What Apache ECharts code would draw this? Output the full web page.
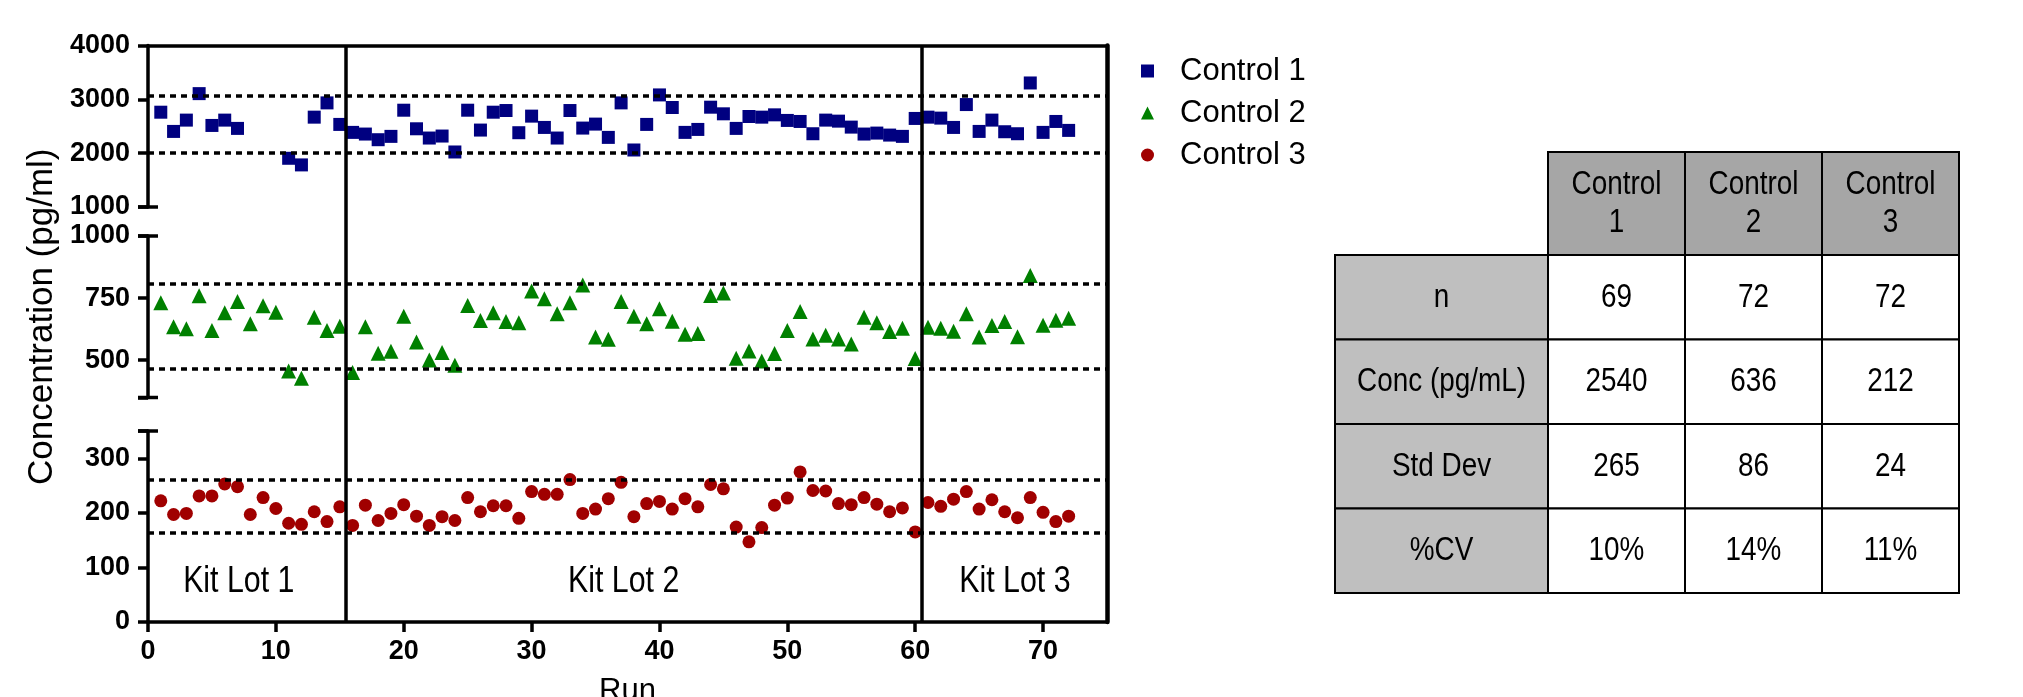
<!DOCTYPE html>
<html>
<head>
<meta charset="utf-8">
<script src="https://cdn.jsdelivr.net/npm/echarts@6/dist/echarts.min.js"></script>
<style>
html,body{margin:0;padding:0;background:#fff;}
#chart{width:2023px;height:697px;}
</style>
</head>
<body>
<div id="chart"></div>
<script>
// ---------- data ----------
const runs = [1,2,3,4,5,6,7,8,9,10,11,12,13,14,15,16,17,18,19,20,21,22,23,24,25,26,27,28,29,30,31,32,33,34,35,36,
  37,38,39,40,41,42,43,44,45,46,47,48,49,50,51,52,53,54,55,56,57,58,59,60,61,62,63,64,65,66,67,68,69,70,71,72];
const control1 = [2761,2404,2614,3106,2515,2614,2460,null,null,null,1905,1782,2669,2934,2534,2386,2355,2250,2312,2798,
  2453,2281,2318,2022,2798,2429,2761,2792,2380,2688,2478,2281,2792,2466,2540,2293,2934,2059,2534,3082,
  2848,2386,2441,2854,2731,2460,2681,2669,2712,2608,2589,2361,2614,2595,2484,2355,2373,2336,2312,2645,
  2669,2651,2478,2903,2404,2614,2398,2361,3304,2386,2589,2423];
const control2 = [731,635,627,760,620,691,736,647,719,693,457,427,673,620,637,451,635,528,536,677,
  573,501,531,480,720,660,691,656,651,779,747,687,731,803,593,584,736,677,647,707,
  657,605,608,761,771,508,537,497,527,620,696,585,601,585,565,673,651,616,629,507,
  633,629,617,687,593,640,656,595,841,641,661,669];
const control3 = [222,197,199,231,231,253,248,197,228,208,181,179,202,184,211,177,214,186,199,215,
  194,177,193,186,228,202,213,213,190,239,234,234,261,199,207,226,256,193,217,221,
  207,226,211,252,244,174,147,173,214,227,275,241,240,217,215,228,216,202,209,165,
  219,212,225,239,207,224,202,191,228,201,184,194];
const seriesNames = ['Control 1','Control 2','Control 3'];
// summary table
const tableColHeads = ['Control\n1','Control\n2','Control\n3'];
const tableRowHeads = ['n','Conc (pg/mL)','Std Dev','%CV'];
const nValues = [69,72,72];
const concValues = [2540,636,212];
const sdValues = [265,86,24];
const cvValues = ['10%','14%','11%'];
// kit lots
const lotBoundaries = [15.5,60.5];
const lotLabels = ['Kit Lot 1','Kit Lot 2','Kit Lot 3'];
const lotLabelX = [7.1,37.2,67.8];
const lotLabelY = 73;
// axis ticks
const xTicks = [0,10,20,30,40,50,60,70];
const seg1Ticks = [1000,2000,3000,4000];
const seg2Ticks = [350,500,750,1000];
const seg2Labels = [500,750,1000];
const seg3Ticks = [0,100,200,300,350];
const seg3Labels = [0,100,200,300];
// segment end caps (break marks)
const seg1Caps = [1000];
const seg2Caps = [350,1000];
const seg3Caps = [350];

// ---------- layout / style ----------
const FONT = "'Liberation Sans', Arial, sans-serif";
const colors = ['#000080','#008000','#a00000'];
const symbols = ['rect','triangle','circle'];
const colWidths = [213,137,137,137];
const rowHeights = [103,84.5,84.5,84.5,84.5];
const colEdges = colWidths.reduce((a,w)=>{a.push(a[a.length-1]+w);return a;},[0]);
const rowEdges = rowHeights.reduce((a,h)=>{a.push(a[a.length-1]+h);return a;},[0]);
const NARROW_SCALE = 0.82;
const LW = 3.5;

function pairs(vals){ const out=[]; vals.forEach((v,i)=>{ if(v!==null) out.push([runs[i],v]); }); return out; }

const axisLineStyle = {color:'#000', width:LW};
function yAxisSeg(gridIndex,min,max,ticks,labels,extra){
  return Object.assign({
    type:'value', gridIndex, min, max,
    axisLine:{show:true,onZero:false,lineStyle:axisLineStyle},
    axisTick:{show:true,inside:false,length:10,lineStyle:{color:'#000',width:LW},customValues:ticks},
    axisLabel:{show:true,customValues:labels,formatter:v=>String(v),color:'#000',fontFamily:FONT,fontWeight:'bold',fontSize:27,margin:18},
    splitLine:{show:false}
  }, extra||{});
}
function hiddenX(gridIndex){
  return {type:'value',gridIndex,min:0,max:75,show:false};
}

const dash = {color:'#000',width:LW,type:[6,5]};
function limitLines(i){
  const m = concValues[i], s = sdValues[i];
  return {
    silent:true, symbol:'none', animation:false,
    label:{show:false},
    lineStyle:dash,
    data:[{yAxis:m+2*s},{yAxis:m-2*s}]
  };
}
function capSeries(xi,yi,caps){
  return {type:'custom',xAxisIndex:xi,yAxisIndex:yi,silent:true,clip:false,z:5,
    data:caps.map(v=>[0,v]),
    renderItem:function(params,api){
      const p = api.coord([api.value(0),api.value(1)]);
      return {type:'line',shape:{x1:p[0]-10,y1:p[1],x2:p[0]+10,y2:p[1]},style:{stroke:'#000',lineWidth:LW}};
    }};
}

// table cells
function cellText(r,c){
  if(r===0) return c===0 ? '' : tableColHeads[c-1];
  if(c===0) return tableRowHeads[r-1];
  const rows = [nValues,concValues,sdValues,cvValues];
  return String(rows[r-1][c-1]);
}
function cellFill(r,c){
  if(r===0) return '#a6a6a6';
  if(c===0) return '#bfbfbf';
  return '#ffffff';
}
const tableData = [];
for(let r=0;r<rowHeights.length;r++) for(let c=0;c<colWidths.length;c++) if(!(r===0&&c===0)) tableData.push([c,r]);

const gridBase = {outerBoundsMode:'none',containLabel:false};
const option = {
  animation:false,
  backgroundColor:'#fff',
  grid:[
    Object.assign({left:148,top:45.5,width:959,height:161.5},gridBase),
    Object.assign({left:148,top:236,width:959,height:161.5},gridBase),
    Object.assign({left:148,top:431,width:959,height:191},gridBase),
    Object.assign({left:148,top:45.5,width:959,height:576.5},gridBase),
    Object.assign({left:1335,top:152,width:624,height:441},gridBase)
  ],
  xAxis:[
    hiddenX(0), hiddenX(1),
    {type:'value',gridIndex:2,min:0,max:75,
      axisLine:{show:true,onZero:false,lineStyle:axisLineStyle},
      axisTick:{show:true,length:10,lineStyle:{color:'#000',width:LW},customValues:xTicks},
      axisLabel:{show:true,customValues:xTicks,formatter:v=>String(v),color:'#000',fontFamily:FONT,fontWeight:'bold',fontSize:27,margin:16},
      splitLine:{show:false},
      name:'Run',nameLocation:'middle',nameGap:54,
      nameTextStyle:{color:'#000',fontFamily:FONT,fontSize:31}},
    {type:'value',gridIndex:3,min:0,max:75,position:'top',
      axisLine:{show:true,onZero:false,lineStyle:axisLineStyle},
      axisTick:{show:false},axisLabel:{show:false},splitLine:{show:false}},
    {type:'value',gridIndex:4,min:0,max:colEdges[colEdges.length-1],show:false}
  ],
  yAxis:[
    yAxisSeg(0,1000,4000,seg1Ticks,seg1Ticks),
    yAxisSeg(1,350,1000,seg2Ticks,seg2Labels,{
      name:'Concentration (pg/ml)',nameLocation:'middle',nameGap:88,
      nameTextStyle:{color:'#000',fontFamily:FONT,fontSize:35}}),
    yAxisSeg(2,0,350,seg3Ticks,seg3Labels),
    {type:'value',gridIndex:3,min:0,max:1,position:'right',
      axisLine:{show:true,onZero:false,lineStyle:{color:'#000',width:4.5}},
      axisTick:{show:false},axisLabel:{show:false},splitLine:{show:false}},
    {type:'value',gridIndex:4,min:0,max:rowEdges[rowEdges.length-1],inverse:true,show:false}
  ],
  legend:{
    orient:'vertical',left:1136,top:50,itemGap:10,itemWidth:13,itemHeight:13,
    textStyle:{color:'#000',fontFamily:FONT,fontSize:31,lineHeight:32,padding:[0,0,0,21]},
    data:seriesNames.map((n,i)=>({name:n,icon:symbols[i],itemStyle:{color:colors[i]}}))
  },
  series:[
    {name:seriesNames[0],type:'scatter',xAxisIndex:0,yAxisIndex:0,symbol:symbols[0],symbolSize:13,
      itemStyle:{color:colors[0],opacity:1},data:pairs(control1),markLine:limitLines(0),z:3},
    {name:seriesNames[1],type:'scatter',xAxisIndex:1,yAxisIndex:1,symbol:symbols[1],symbolSize:15,
      itemStyle:{color:colors[1],opacity:1},data:pairs(control2),markLine:limitLines(1),z:3},
    {name:seriesNames[2],type:'scatter',xAxisIndex:2,yAxisIndex:2,symbol:symbols[2],symbolSize:13,
      itemStyle:{color:colors[2],opacity:1},data:pairs(control3),markLine:limitLines(2),z:3},
    {name:'lots',type:'custom',xAxisIndex:2,yAxisIndex:2,silent:true,clip:false,
      data:lotLabels.map((t,i)=>[lotLabelX[i],lotLabelY]),
      renderItem:function(params,api){
        const p = api.coord([api.value(0),api.value(1)]);
        return {type:'text',x:p[0],y:p[1],scaleX:NARROW_SCALE,
          style:{text:lotLabels[params.dataIndex],x:0,y:0,align:'center',verticalAlign:'middle',
            fill:'#000',font:'37px '+FONT}};
      }},
    {name:'dividers',type:'scatter',xAxisIndex:3,yAxisIndex:3,data:[],silent:true,
      markLine:{silent:true,symbol:'none',animation:false,label:{show:false},
        lineStyle:{color:'#000',width:LW,type:'solid'},
        data:lotBoundaries.map(v=>({xAxis:v}))}},
    capSeries(0,0,seg1Caps),
    capSeries(1,1,seg2Caps),
    capSeries(2,2,seg3Caps),
    {name:'table',type:'custom',xAxisIndex:4,yAxisIndex:4,silent:true,data:tableData,
      renderItem:function(params,api){
        const c = api.value(0), r = api.value(1);
        const p0 = api.coord([colEdges[c],rowEdges[r]]);
        const p1 = api.coord([colEdges[c+1],rowEdges[r+1]]);
        const w = p1[0]-p0[0], h = p1[1]-p0[1];
        return {type:'group',children:[
          {type:'rect',shape:{x:p0[0],y:p0[1],width:w,height:h},
            style:{fill:cellFill(r,c),stroke:'#000',lineWidth:2}},
          {type:'text',x:p0[0]+w/2,y:p0[1]+h/2,scaleX:NARROW_SCALE,
            style:{text:cellText(r,c),x:0,y:0,align:'center',verticalAlign:'middle',
            fill:'#000',font:'34px '+FONT,lineHeight:38}}
        ]};
      }}
  ]
};
const chart = echarts.init(document.getElementById('chart'),null,{renderer:'canvas'});
chart.setOption(option);
</script>
</body>
</html>
